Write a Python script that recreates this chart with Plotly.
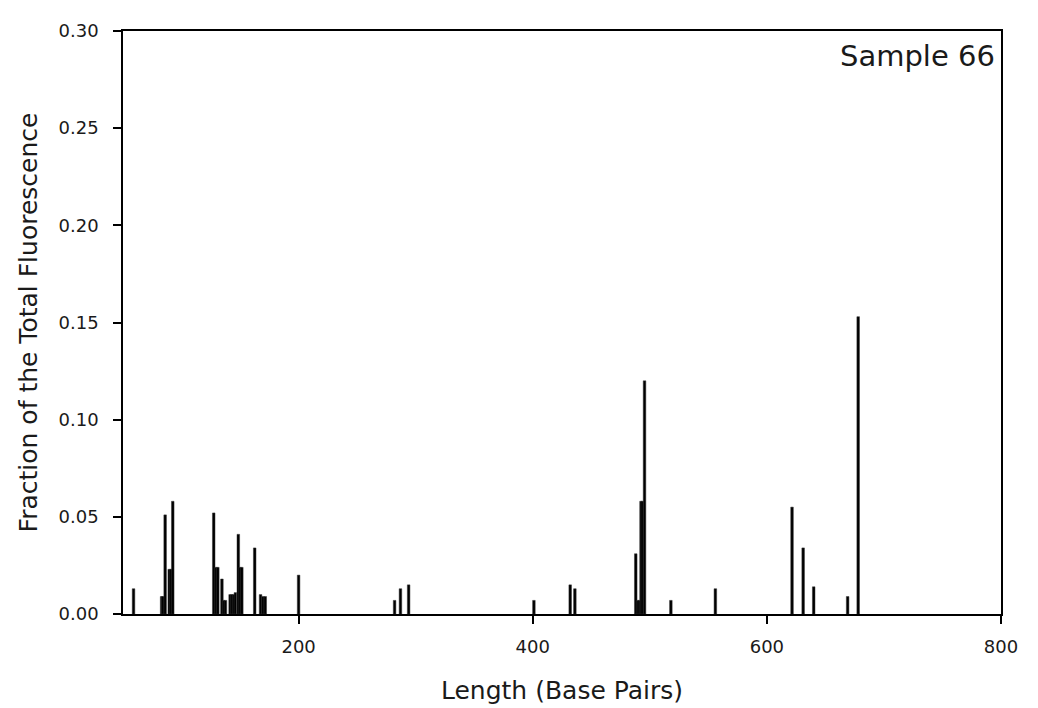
import plotly.graph_objects as go

# Fragment lengths (base pairs) and fraction of total fluorescence
lengths = [59, 83, 84, 86, 89.5, 91, 92.5,
           127.5, 129.5, 131, 134.5, 136, 137.5, 141.5, 143, 144.5, 146,
           148.5, 150, 151.5, 162.5, 167.5, 169.5, 171.5, 200,
           282, 287, 294, 401, 432, 436,
           488, 489.5, 491, 492.5, 493.5, 495.5, 518, 556,
           621.5, 631, 640, 669, 678]
fractions = [0.013, 0.009, 0.009, 0.051, 0.023, 0.023, 0.058,
             0.052, 0.024, 0.024, 0.018, 0.007, 0.007, 0.010, 0.010, 0.010, 0.011,
             0.041, 0.024, 0.024, 0.034, 0.010, 0.009, 0.009, 0.020,
             0.007, 0.013, 0.015, 0.007, 0.015, 0.013,
             0.031, 0.007, 0.007, 0.058, 0.058, 0.120, 0.007, 0.013,
             0.055, 0.034, 0.014, 0.009, 0.153]

x_ticks = [200, 400, 600, 800]
y_ticks = [0.00, 0.05, 0.10, 0.15, 0.20, 0.25, 0.30]

fig = go.Figure()
fig.add_trace(go.Bar(
    x=lengths, y=fractions, width=2.2,
    marker=dict(color="black", line=dict(color="#333333", width=0.5)),
    showlegend=False,
))

font_family = "DejaVu Sans, Liberation Sans, Arial, sans-serif"
text_color = "#1a1a1a"
fig.update_layout(
    width=1038, height=708,
    margin=dict(l=123, r=37, t=31, b=94),
    paper_bgcolor="white", plot_bgcolor="white",
    barmode="overlay",
    font=dict(family=font_family, color=text_color),
    xaxis=dict(
        range=[50, 800], tickvals=x_ticks, ticktext=[str(v) for v in x_ticks],
        ticks="outside", ticklen=8, tickwidth=1.5, tickcolor="black",
        showline=True, linecolor="black", linewidth=1.5, mirror=True,
        showgrid=False, zeroline=False, automargin=False,
        tickfont=dict(size=18, family=font_family, color=text_color),
        ticklabelstandoff=8,
        title=dict(text="Length (Base Pairs)", font=dict(size=25, family=font_family, color=text_color), standoff=25),
    ),
    yaxis=dict(
        range=[0, 0.30], tickvals=y_ticks, ticktext=[f"{v:.2f}" for v in y_ticks],
        ticks="outside", ticklen=8, tickwidth=1.5, tickcolor="black",
        showline=True, linecolor="black", linewidth=1.5, mirror=True,
        showgrid=False, zeroline=False, automargin=False,
        tickfont=dict(size=18, family=font_family, color=text_color),
        ticklabelstandoff=11,
        title=dict(text="Fraction of the Total Fluorescence", font=dict(size=25, family=font_family, color=text_color), standoff=14),
    ),
    annotations=[dict(
        text="Sample 66", xref="paper", yref="paper", x=0.9955, y=0.99,
        xanchor="right", yanchor="top", showarrow=False,
        font=dict(size=29, family=font_family, color=text_color),
    )],
)

fig.write_html("out.html")
